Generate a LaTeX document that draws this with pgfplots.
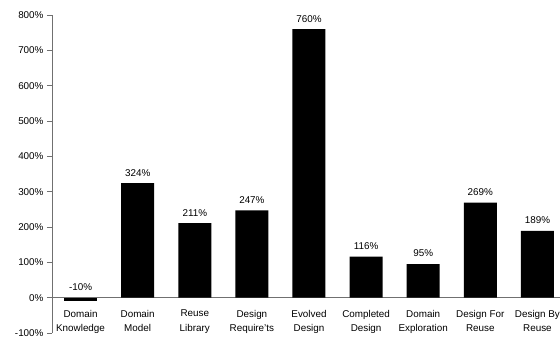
\documentclass[border=0pt]{standalone}
\usepackage{pgfplots}
\pgfplotsset{compat=1.18}
\usepackage{fontspec}
\setmainfont{Liberation Sans}
\definecolor{axisgray}{HTML}{707070}

\begin{document}
\begin{tikzpicture}
\begin{axis}[
  name=ax,
  scale only axis,
  width=514bp, height=318bp,
  xmin=-0.5, xmax=8.5,
  ymin=-100, ymax=800,
  axis y line*=left,
  axis x line*=middle,
  axis line style={draw=axisgray, line width=0.8bp},
  ytick={-100,0,...,800},
  yticklabels={-100\%,0\%,100\%,200\%,300\%,400\%,500\%,600\%,700\%,800\%},
  tick align=outside,
  major tick length=5bp,
  ytick style={draw=axisgray, line width=0.8bp},
  xtick={0,...,8},
  xtick style={draw=none},
  xticklabels={Domain\\Knowledge, Domain\\Model, Reuse\\Library, Design\\Require'ts,
               Evolved\\Design, Completed\\Design, Domain\\Exploration,
               Design For\\Reuse, Design By\\Reuse},
  xticklabel style={align=center, yshift=-4bp},
  tick label style={font=\fontsize{9.9}{14.5}\selectfont},
  /pgf/number format/assume math mode=true,
  clip=false,
]
  \addplot[ybar, bar width=33bp, fill=black, draw=none,
    nodes near coords={\pgfmathprintnumber{\pgfplotspointmeta}\%},
    nodes near coords style={font=\fontsize{9.9}{11}\selectfont, anchor=south, yshift=3.5bp},
    point meta=explicit,
  ] table[meta=v] {
    x y v
    1 324 324
    2 211 211
    3 247 247
    4 760 760
    5 116 116
    6 95 95
    7 269 269
    8 189 189
  };
  % the one negative change, labelled above the zero line
  \addplot[ybar, bar width=33bp, fill=black, draw=none] coordinates {(0,-10)};
  \node[anchor=south, yshift=3.5bp, font=\fontsize{9.9}{11}\selectfont] at (axis cs:0,0) {-10\%};
\end{axis}
\pgfresetboundingbox
\path[use as bounding box] ([xshift=-52bp,yshift=-4bp]ax.south west) rectangle ++(560bp,337bp);
\end{tikzpicture}
\end{document}
